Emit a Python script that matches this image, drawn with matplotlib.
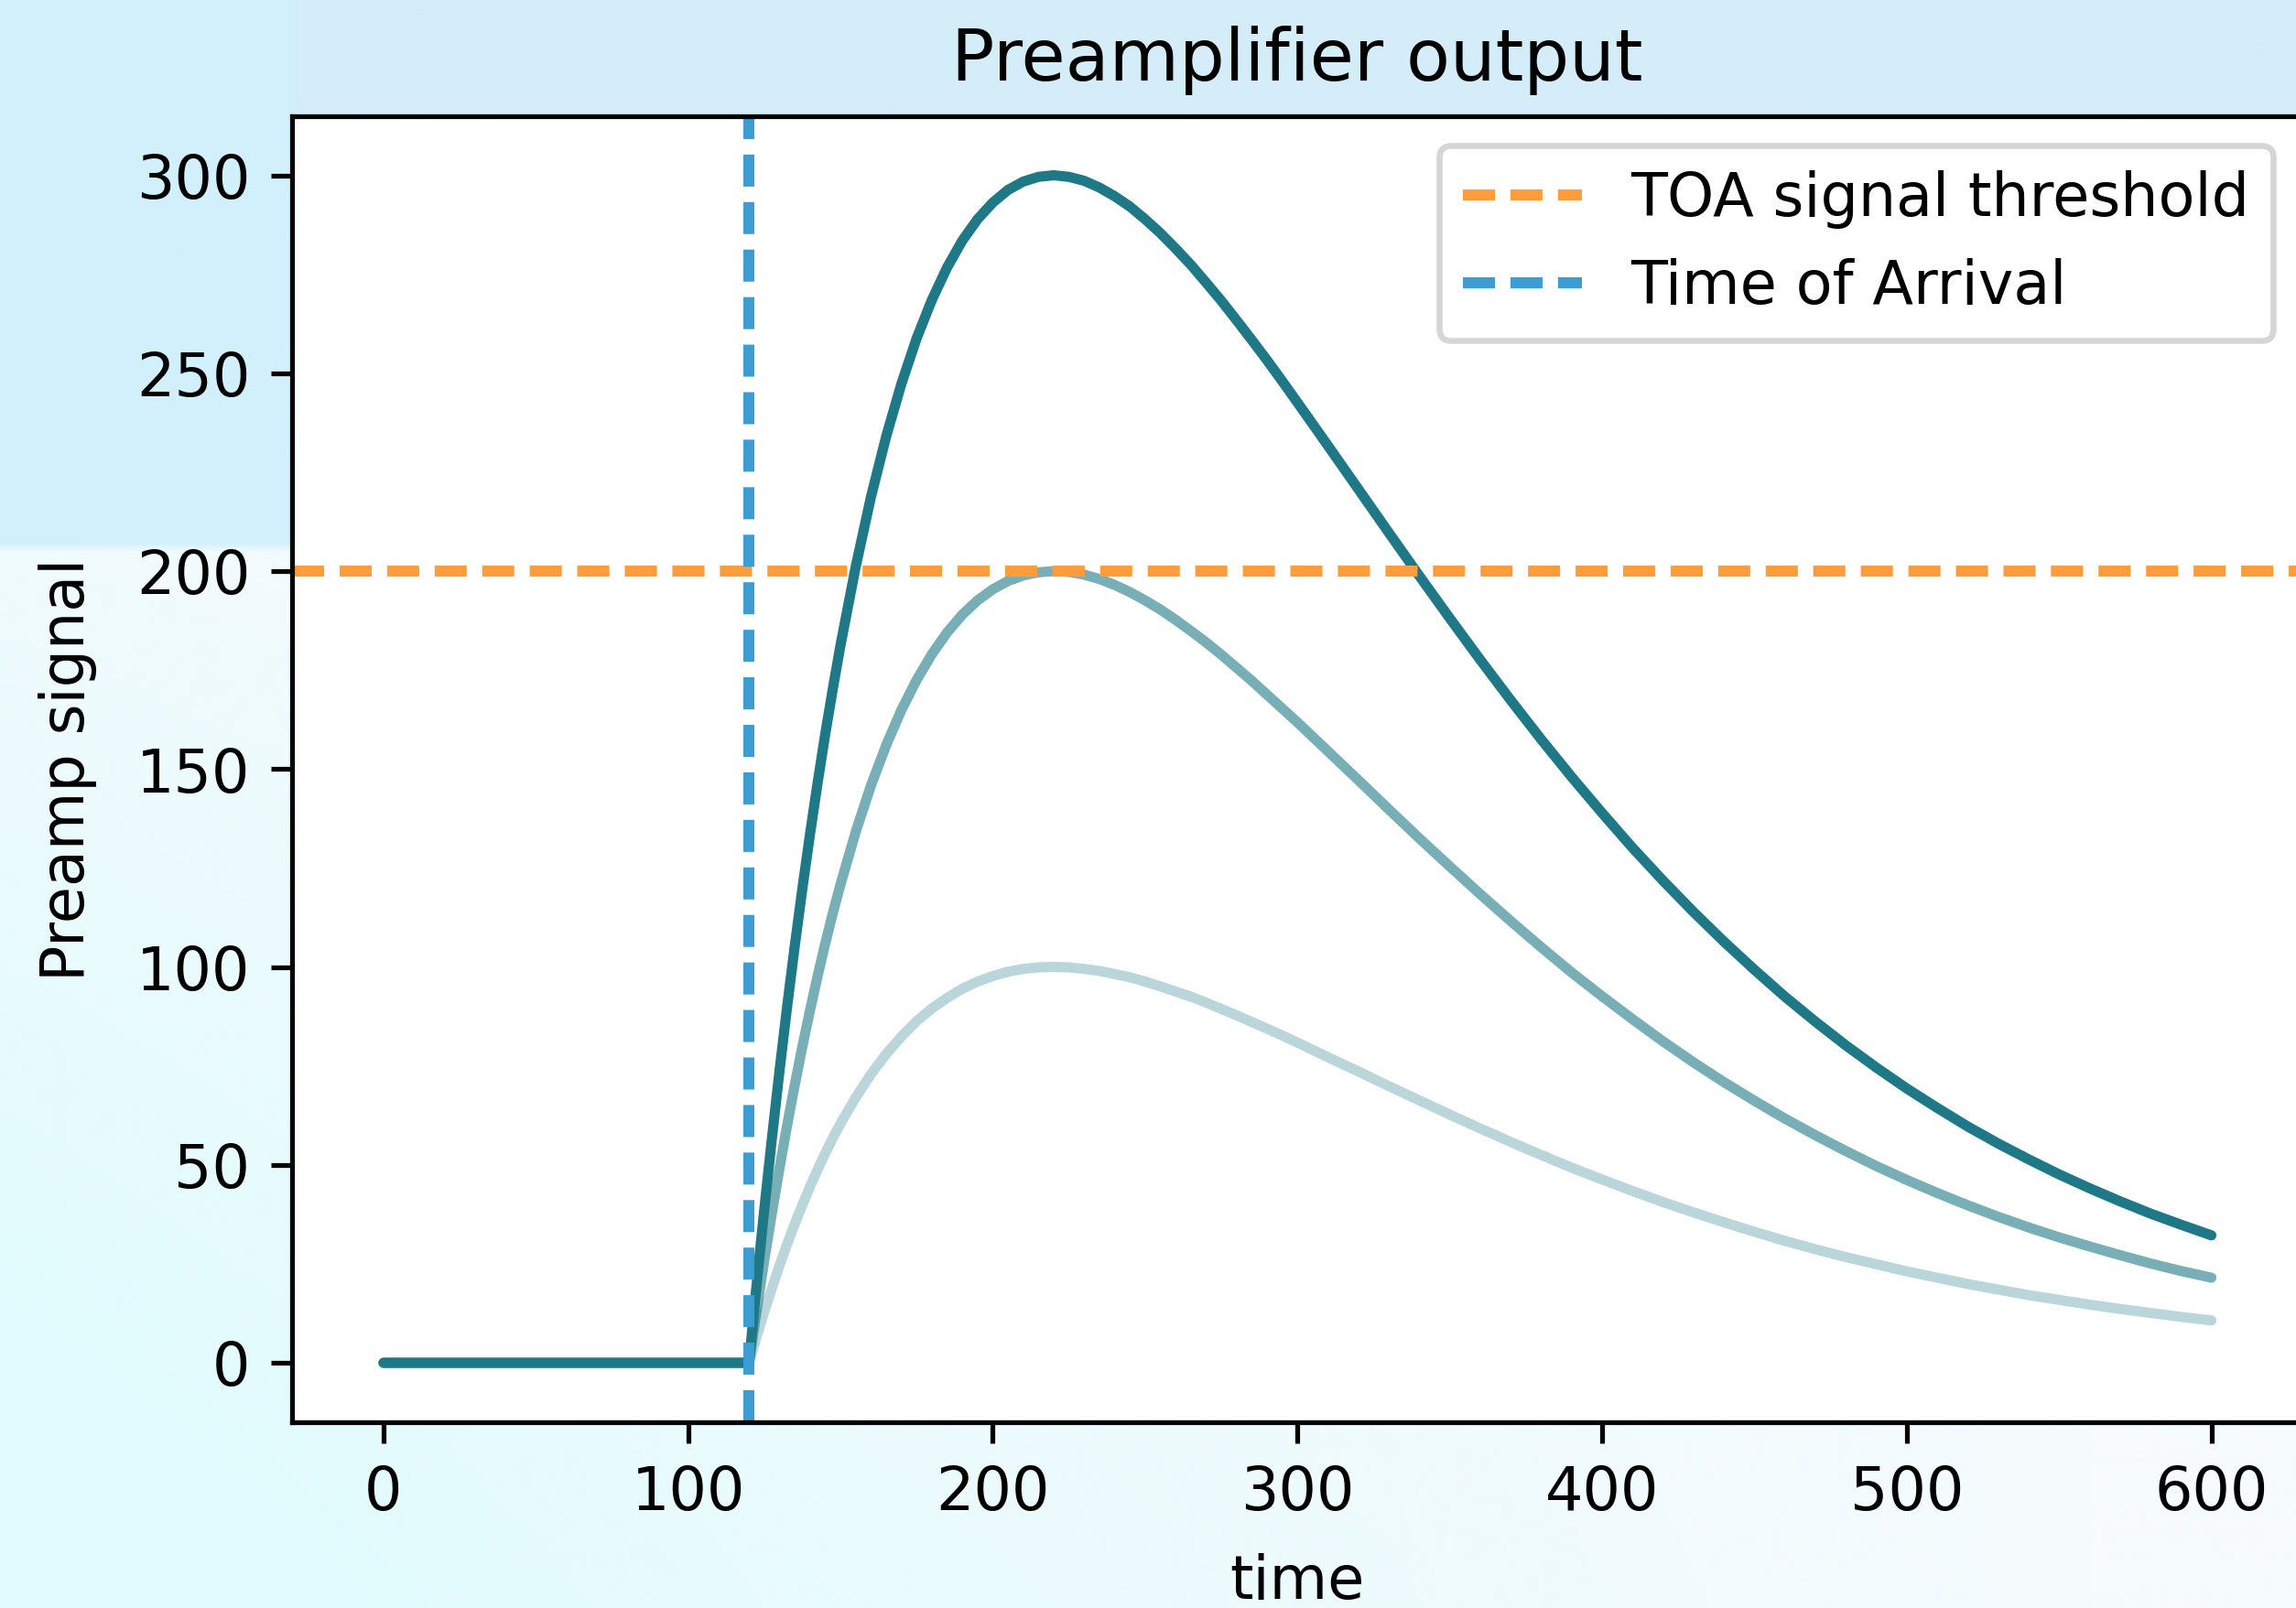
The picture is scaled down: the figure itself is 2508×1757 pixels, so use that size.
import numpy as np
import matplotlib
matplotlib.use("Agg")
import matplotlib.pyplot as plt
from matplotlib.colors import to_rgb

# Sample times of the preamplifier pulse
time = [0, 115, 120, 121, 122, 123, 124, 125,
        127.5, 130, 132.5, 135, 137.5, 140, 142.5, 145, 147.5, 150,
        155, 160, 165, 170, 175, 180, 185, 190, 195, 200,
        205, 210, 215, 220, 225, 230, 235, 240, 245, 250,
        255, 260, 265, 270, 275, 280, 285, 290, 295, 300,
        310, 320, 330, 340, 350, 360, 370, 380, 390, 400,
        410, 420, 430, 440, 450, 460, 470, 480, 490, 500,
        510, 520, 530, 540, 550, 560, 570, 580, 590, 600]

# Preamp signal for three injected charges (peaks 100, 200, 300)
signal_large = [0, 0, 0, 8.1, 16.0, 23.7, 31.3, 38.8,
                56.7, 73.8, 90.0, 105.3, 119.8, 133.5, 146.5, 158.8, 170.3, 181.2,
                201.1, 218.7, 234.0, 247.3, 258.8, 268.5, 276.7, 283.5, 288.9, 293.1,
                296.3, 298.4, 299.6, 300.0, 299.6, 298.6, 296.9, 294.7, 292.1, 288.9,
                285.4, 281.5, 277.4, 272.9, 268.3, 263.4, 258.4, 253.3, 248.0, 242.6,
                231.7, 220.7, 209.7, 198.8, 188.1, 177.6, 167.4, 157.5, 148.0, 138.9,
                130.1, 121.8, 113.9, 106.4, 99.3, 92.5, 86.2, 80.2, 74.6, 69.3,
                64.4, 59.7, 55.4, 51.4, 47.6, 44.1, 40.8, 37.7, 34.9, 32.2]
signal_mid = [0, 0, 0, 5.4, 10.7, 15.8, 20.9, 25.9,
              37.8, 49.2, 60.0, 70.2, 79.9, 89.0, 97.7, 105.9, 113.6, 120.8,
              134.1, 145.8, 156.0, 164.9, 172.5, 179.0, 184.5, 189.0, 192.6, 195.4,
              197.5, 198.9, 199.7, 200.0, 199.8, 199.1, 198.0, 196.5, 194.7, 192.6,
              190.3, 187.7, 184.9, 182.0, 178.9, 175.6, 172.3, 168.8, 165.3, 161.8,
              154.5, 147.2, 139.8, 132.5, 125.4, 118.4, 111.6, 105.0, 98.6, 92.6,
              86.8, 81.2, 75.9, 70.9, 66.2, 61.7, 57.5, 53.5, 49.7, 46.2,
              42.9, 39.8, 36.9, 34.2, 31.7, 29.4, 27.2, 25.1, 23.2, 21.5]
signal_small = [0, 0, 0, 2.7, 5.3, 7.9, 10.4, 12.9,
                18.9, 24.6, 30.0, 35.1, 39.9, 44.5, 48.8, 52.9, 56.8, 60.4,
                67.0, 72.9, 78.0, 82.4, 86.3, 89.5, 92.2, 94.5, 96.3, 97.7,
                98.8, 99.5, 99.9, 100.0, 99.9, 99.5, 99.0, 98.2, 97.4, 96.3,
                95.1, 93.8, 92.5, 91.0, 89.4, 87.8, 86.1, 84.4, 82.7, 80.9,
                77.2, 73.6, 69.9, 66.3, 62.7, 59.2, 55.8, 52.5, 49.3, 46.3,
                43.4, 40.6, 38.0, 35.5, 33.1, 30.8, 28.7, 26.7, 24.9, 23.1,
                21.5, 19.9, 18.5, 17.1, 15.9, 14.7, 13.6, 12.6, 11.6, 10.7]

threshold = 200
time_of_arrival = 120

W, H = 2508, 1757
DPI = 470
fig = plt.figure(figsize=((W + 0.4) / DPI, (H + 0.4) / DPI), dpi=DPI)

# Soft light-blue page behind the plot
bg = fig.add_axes([0, 0, 1, 1], zorder=-10)
bg.axis("off")
gh, gw = 176, 251
yy, xx = np.mgrid[0:gh, 0:gw]
yy = yy / (gh - 1)
xx = xx / (gw - 1)
pale = np.array(to_rgb("#f6fbfd"))
cyan = np.array(to_rgb("#e0fbfd"))
mix = np.clip((yy - 0.35) / 0.65, 0, 1) * np.clip(1.0 - xx * 1.1, 0, 1)
mix = np.clip(mix + 0.25 * np.clip(1.0 - xx * 3, 0, 1), 0, 1)
img = pale[None, None, :] * (1 - mix[..., None]) + cyan[None, None, :] * mix[..., None]
top_band = yy < 127 / H
img[top_band] = to_rgb("#d4edf8")
left_block = (yy < 600 / H) & (xx < 320 / W)
img[left_block] = to_rgb("#d1f0fb")
bg.imshow(img, extent=[0, 1, 0, 1], aspect="auto", interpolation="bilinear")
bg.set_xlim(0, 1)
bg.set_ylim(0, 1)

# Main axes; its right edge runs just past the page edge
left, right, top, bottom = 319, 2515, 127, 1554
ax = fig.add_axes([left / W, 1 - bottom / H, (right - left) / W, (bottom - top) / H])

teal = "#1f7886"
ax.plot(time, signal_large, color=teal, alpha=1.0, lw=1.7, solid_capstyle="round")
ax.plot(time, signal_mid, color=teal, alpha=0.6, lw=1.7, solid_capstyle="round")
ax.plot(time, signal_small, color=teal, alpha=0.3, lw=1.7, solid_capstyle="round")

dash = (0, (2.9, 1.4))
ax.axhline(threshold, color="#ff9d3c", ls=dash, lw=1.85, label="TOA signal threshold")
ax.axvline(time_of_arrival, color="#3b9dd2", ls=dash, lw=1.85, label="Time of Arrival")

ax.set_xlim(-30, 630)
ax.set_ylim(-15, 315)
ax.set_xticks([0, 100, 200, 300, 400, 500, 600])
ax.set_yticks([0, 50, 100, 150, 200, 250, 300])
ax.set_title("Preamplifier output")
ax.set_xlabel("time", labelpad=5)
ax.set_ylabel("Preamp signal", labelpad=6.5)
ax.legend(loc="upper right")

fig.savefig("out.png", dpi=DPI)
